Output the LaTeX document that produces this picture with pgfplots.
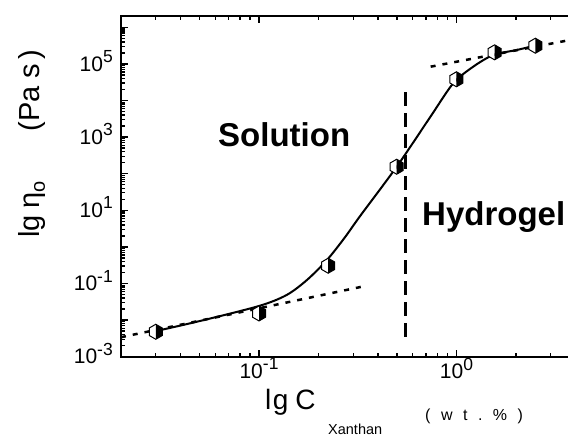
\documentclass[border=0pt]{standalone}
\usepackage{fontspec}
\setmainfont{Liberation Sans}
\usepackage{pgfplots}
\usepackage{pgfplotstable}
\pgfplotsset{compat=1.18}

\newcommand{\tlab}[1]{\fontsize{21}{21}\selectfont 10\raisebox{8.5pt}{\fontsize{17.5}{17.5}\selectfont #1}}

\pgfdeclareplotmark{halfhex}{%
  \pgfsetfillcolor{white}%
  \pgfpathmoveto{\pgfpoint{0pt}{\pgfplotmarksize}}%
  \pgfpathlineto{\pgfpoint{-0.866\pgfplotmarksize}{0.5\pgfplotmarksize}}%
  \pgfpathlineto{\pgfpoint{-0.866\pgfplotmarksize}{-0.5\pgfplotmarksize}}%
  \pgfpathlineto{\pgfpoint{0pt}{-\pgfplotmarksize}}%
  \pgfpathclose
  \pgfusepathqfill
  \pgfsetfillcolor{black}%
  \pgfpathmoveto{\pgfpoint{0pt}{\pgfplotmarksize}}%
  \pgfpathlineto{\pgfpoint{0.866\pgfplotmarksize}{0.5\pgfplotmarksize}}%
  \pgfpathlineto{\pgfpoint{0.866\pgfplotmarksize}{-0.5\pgfplotmarksize}}%
  \pgfpathlineto{\pgfpoint{0pt}{-\pgfplotmarksize}}%
  \pgfpathclose
  \pgfusepathqfill
  \pgfpathmoveto{\pgfpoint{0pt}{\pgfplotmarksize}}%
  \pgfpathlineto{\pgfpoint{0.866\pgfplotmarksize}{0.5\pgfplotmarksize}}%
  \pgfpathlineto{\pgfpoint{0.866\pgfplotmarksize}{-0.5\pgfplotmarksize}}%
  \pgfpathlineto{\pgfpoint{0pt}{-\pgfplotmarksize}}%
  \pgfpathlineto{\pgfpoint{-0.866\pgfplotmarksize}{-0.5\pgfplotmarksize}}%
  \pgfpathlineto{\pgfpoint{-0.866\pgfplotmarksize}{0.5\pgfplotmarksize}}%
  \pgfpathclose
  \pgfusepathqstroke
}

\pgfplotstableread{
x y
0.030 0.0050
0.050 0.0094
0.100 0.0243
0.138 0.0485
0.175 0.125
0.221 0.44
0.272 1.81
0.324 6.8
0.500 160
0.738 3600
0.963 29500
1.216 84000
1.537 175000
2.02 240000
2.45 308000
}\curvedata

\pgfplotstableread{
x y
0.030 0.0048
0.100 0.0152
0.224 0.306
0.498 155
1.00 38000
1.56 207000
2.51 314000
}\pointdata

\begin{document}
\begin{tikzpicture}
\path[use as bounding box] (0,0) rectangle (568pt,438pt);
\clip (0,0) rectangle (568pt,438pt);
\begin{axis}[
  at={(121pt,81.3pt)}, anchor=south west,
  scale only axis, width=473.5pt, height=340.4pt,
  xmode=log, ymode=log,
  xmin=0.02, xmax=5, ymin=1e-3, ymax=2e6,
  axis line style={line width=2pt},
  every tick/.style={line width=1.3pt, black},
  major tick length=7pt, minor tick length=4pt,
  tick align=inside,
  xtick={0.1,1},
  xticklabels={},
  minor xtick={0.02,0.03,0.04,0.05,0.06,0.07,0.08,0.09,0.2,0.3,0.4,0.5,0.6,0.7,0.8,0.9,2,3,4},
  ytick={1e-3,1e-2,1e-1,1,10,100,1000,1e4,1e5,1e6},
  yticklabels={},
  minor ytick={2e-3,3e-3,4e-3,5e-3,6e-3,7e-3,8e-3,9e-3,2e-2,3e-2,4e-2,5e-2,6e-2,7e-2,8e-2,9e-2,2e-1,3e-1,4e-1,5e-1,6e-1,7e-1,8e-1,9e-1,2,3,4,5,6,7,8,9,2e1,3e1,4e1,5e1,6e1,7e1,8e1,9e1,2e2,3e2,4e2,5e2,6e2,7e2,8e2,9e2,2e3,3e3,4e3,5e3,6e3,7e3,8e3,9e3,2e4,3e4,4e4,5e4,6e4,7e4,8e4,9e4,2e5,3e5,4e5,5e5,6e5,7e5,8e5,9e5},
]
\addplot[black, line width=2.5pt, dash pattern=on 5pt off 7pt] coordinates {(0.02,0.0034) (0.351,0.087)};
\addplot[black, line width=2.5pt, dash pattern=on 5pt off 7pt] coordinates {(0.74,84000) (4,480000)};
\addplot[black, line width=2.5pt, dash pattern=on 14pt off 7pt] coordinates {(0.551,0.00352) (0.551,19400)};
\addplot[black, line width=2pt, smooth] table[x=x,y=y] {\curvedata};
\addplot[only marks, mark=halfhex, mark size=7.5pt, mark options={line width=1pt, draw=black}] table[x=x,y=y] {\pointdata};
\coordinate (xa) at (axis cs:0.1,1e-3);
\coordinate (xb) at (axis cs:1,1e-3);
\coordinate (ya) at (axis cs:0.02,1e-3);
\coordinate (yb) at (axis cs:0.02,1e-1);
\coordinate (yc) at (axis cs:0.02,10);
\coordinate (yd) at (axis cs:0.02,1000);
\coordinate (ye) at (axis cs:0.02,1e5);
\end{axis}
\node[anchor=north, inner sep=0pt, yshift=-1pt] at (xa) {\tlab{-1}};
\node[anchor=north, inner sep=0pt, yshift=-1pt] at (xb) {\tlab{0}};
\node[anchor=east, inner sep=0pt, xshift=-8pt, yshift=3pt] at (ya) {\tlab{-3}};
\node[anchor=east, inner sep=0pt, xshift=-8pt, yshift=3pt] at (yb) {\tlab{-1}};
\node[anchor=east, inner sep=0pt, xshift=-8pt, yshift=3pt] at (yc) {\tlab{1}};
\node[anchor=east, inner sep=0pt, xshift=-8pt, yshift=3pt] at (yd) {\tlab{3}};
\node[anchor=east, inner sep=0pt, xshift=-8pt, yshift=3pt] at (ye) {\tlab{5}};
\node[anchor=base west, inner sep=0pt, font=\bfseries\fontsize{33}{33}\selectfont] at (218pt,291.3pt) {Solution};
\node[anchor=base west, inner sep=0pt, font=\bfseries\fontsize{33}{33}\selectfont] at (422pt,212pt) {Hydrogel};
\node[rotate=90, anchor=base west, inner sep=0pt, font=\fontsize{29}{29}\selectfont] at (39pt,200pt) {lg\hspace{7pt}η\raisebox{-6pt}{\fontsize{20}{20}\selectfont o}};
\node[rotate=90, anchor=base east, inner sep=0pt, font=\fontsize{29}{29}\selectfont] at (39pt,388pt) {(Pa s\hspace{4pt})};
\node[anchor=base west, inner sep=0pt, font=\fontsize{28}{28}\selectfont] at (265pt,28pt) {l\hspace{1.5pt}g\hspace{7pt}C};
\node[anchor=base west, inner sep=0pt, font=\fontsize{14.5}{14.5}\selectfont] at (328pt,3pt) {Xanthan};
\node[anchor=base west, inner sep=0pt, font=\fontsize{16}{16}\selectfont] at (425pt,17pt) {(\hspace{10.5pt}w\hspace{10.5pt}t\hspace{10.5pt}.\hspace{10.5pt}\%\hspace{10.5pt})};
\end{tikzpicture}
\end{document}
